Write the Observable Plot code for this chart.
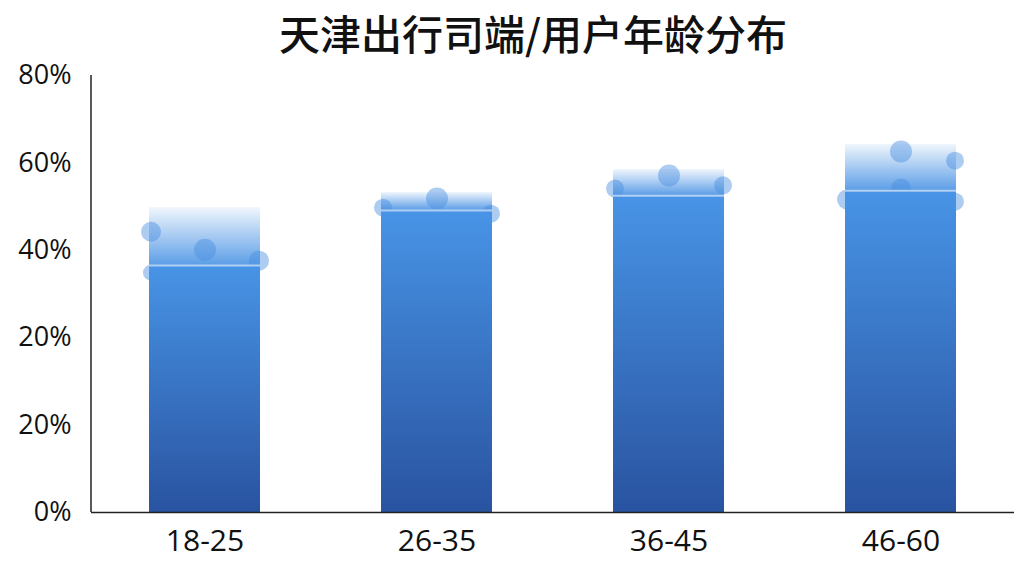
<!DOCTYPE html>
<html>
<head>
<meta charset="utf-8">
<script src="https://cdn.jsdelivr.net/npm/d3@7"></script>
<script src="https://cdn.jsdelivr.net/npm/@observablehq/plot@0.6"></script>
<style>
  html, body { margin: 0; padding: 0; background: #ffffff; }
  #wrap { width: 1024px; height: 576px; overflow: hidden; }
  #title { height: 50px; line-height: 64px; font-family: "Noto Sans CJK SC", sans-serif; font-size: 41px; font-weight: 500; letter-spacing: 0px; color: #111; text-align: center; padding-left: 42px; box-sizing: border-box; white-space: nowrap; }
</style>
</head>
<body>
<div id="wrap">
  <div id="title">天津出行司端/用户年龄分布</div>
  <div id="chart"></div>
</div>
<script>
const ages = ["18-25", "26-35", "36-45", "46-60"];
const barTop = [55.8, 58.6, 62.8, 67.4];
const liquid = [45.2, 55.3, 58.0, 58.9];
const yTicks = [0, 16, 32, 48, 64, 80];
const yTickLabels = ["0%", "20%", "20%", "40%", "60%", "80%"];

const bubbleAge   = ["18-25","18-25","18-25","18-25","26-35","26-35","26-35","36-45","36-45","36-45","46-60","46-60","46-60","46-60","46-60"];
const bubbleValue = [51.4, 43.9, 48.1, 46.1, 55.8, 57.5, 54.7, 59.3, 61.7, 59.9, 57.3, 66.1, 64.4, 56.9, 59.3];
const bubbleSide  = [-1, -1, 0, 1, -1, 0, 1, -1, 0, 1, -1, 0, 1, 1, 0];
const bubbleR     = [10, 8, 11, 10, 9, 11, 9, 9, 11, 9, 10, 11, 9, 9, 10];

const bars = ages.map((a, i) => ({age: a, top: barTop[i], liquid: liquid[i]}));
const bubbles = bubbleAge.map((a, i) => ({age: a, v: bubbleValue[i], side: bubbleSide[i], r: bubbleR[i]}));

const font = "'Open Sans', 'Noto Sans', sans-serif";
const bubbleStyle = {x: "age", y: "v", r: "r", fill: "#4a8fe0", fillOpacity: 0.45};

const chart = Plot.plot({
  width: 1024,
  height: 526,
  marginTop: 25,
  marginBottom: 64,
  marginLeft: 91,
  marginRight: 10,
  style: {fontFamily: font, color: "#111", background: "transparent"},
  x: {domain: ages, paddingInner: 0.52, paddingOuter: 0.245, label: null},
  y: {domain: [0, 80], label: null},
  r: {type: "identity"},
  marks: [
    Plot.barY(bars, {x: "age", y1: "liquid", y2: "top", fill: "url(#fadeGrad)"}),
    Plot.dot(bubbles, {...bubbleStyle, filter: d => d.side === 0}),
    Plot.dot(bubbles, {...bubbleStyle, dx: -54, filter: d => d.side === -1}),
    Plot.dot(bubbles, {...bubbleStyle, dx: 54, filter: d => d.side === 1}),
    Plot.barY(bars, {x: "age", y1: 0, y2: "liquid", fill: "url(#liquidGrad)"}),
    Plot.tickY(bars, {x: "age", y: "liquid", stroke: "#d6e6fa", strokeOpacity: 0.7, strokeWidth: 2}),
    Plot.ruleY([0], {stroke: "#222", strokeWidth: 1.5}),
    Plot.axisY({ticks: yTicks, tickFormat: (d) => yTickLabels[yTicks.indexOf(d)], tickSize: 0, tickPadding: 20, fontSize: 27}),
    Plot.axisX({tickSize: 0, tickPadding: 17, fontSize: 30})
  ]
});

document.getElementById("chart").appendChild(chart);

const svg = d3.select(chart);
const defs = svg.insert("defs", ":first-child");
const lg = defs.append("linearGradient").attr("id", "liquidGrad").attr("x1", 0).attr("y1", 0).attr("x2", 0).attr("y2", 1);
lg.append("stop").attr("offset", "0%").attr("stop-color", "#4894e6");
lg.append("stop").attr("offset", "100%").attr("stop-color", "#2953a0");
const fg = defs.append("linearGradient").attr("id", "fadeGrad").attr("x1", 0).attr("y1", 0).attr("x2", 0).attr("y2", 1);
fg.append("stop").attr("offset", "0%").attr("stop-color", "#4a93e4").attr("stop-opacity", 0.08);
fg.append("stop").attr("offset", "100%").attr("stop-color", "#4a93e4").attr("stop-opacity", 0.9);

// vertical axis line at the left edge of the x range, spanning the y scale
const xr = chart.scale("x").range;
const yr = chart.scale("y").range;
svg.append("line")
  .attr("x1", xr[0]).attr("x2", xr[0])
  .attr("y1", yr[0]).attr("y2", yr[1])
  .attr("stroke", "#222").attr("stroke-width", 1.5);
</script>
</body>
</html>
